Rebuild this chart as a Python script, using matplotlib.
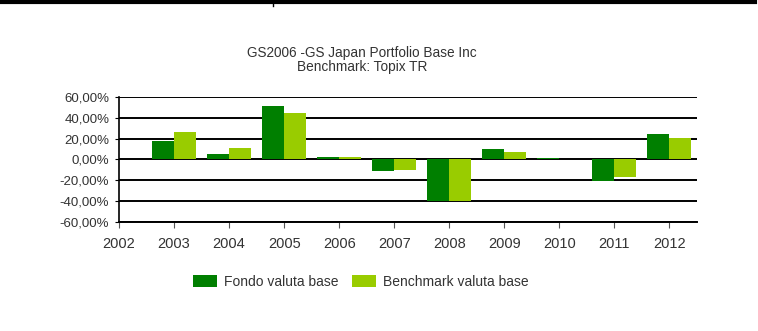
import matplotlib
matplotlib.use("Agg")
from matplotlib import pyplot as plt
from matplotlib.lines import Line2D

# dati (rendimenti annui in %)
years = [2003, 2004, 2005, 2006, 2007, 2008, 2009, 2010, 2011, 2012]
fondo = [17.5, 5.5, 51.0, 2.7, -11.0, -40.0, 9.8, 1.0, -20.5, 24.0]
benchmark = [26.0, 11.5, 45.0, 2.5, -10.5, -40.0, 7.5, 0.8, -17.0, 21.0]
tick_years = [2002, 2003, 2004, 2005, 2006, 2007, 2008, 2009, 2010, 2011, 2012]
y_ticks = [-60, -40, -20, 0, 20, 40, 60]

DARK = "#007F00"
LIGHT = "#99CC00"
TEXT = "#333333"

plt.rcParams["font.family"] = ["Liberation Sans", "DejaVu Sans"]


def main() -> None:
    fig = plt.figure(figsize=(7.58, 3.31), dpi=100)
    ax = fig.add_axes((119 / 758, 1 - 222 / 331, (697 - 119) / 758, (222 - 97) / 331))

    ax.bar([y - 0.2 for y in years], fondo, width=0.4, color=DARK,
           label="Fondo valuta base", zorder=3)
    ax.bar([y + 0.2 for y in years], benchmark, width=0.4, color=LIGHT,
           label="Benchmark valuta base", zorder=3)

    ax.set_xlim(2002, 2012.5)
    ax.set_ylim(-60, 60)
    ax.set_xticks(tick_years)
    ax.set_xticklabels([str(y) for y in tick_years], fontsize=10.5, color=TEXT)
    ax.set_yticks(y_ticks)
    ax.set_yticklabels([f"{v},00%" for v in y_ticks], fontsize=9.5, color=TEXT)

    for v in y_ticks:
        ax.axhline(v, color="black", linewidth=1.4, zorder=2)

    for side in ("top", "right"):
        ax.spines[side].set_visible(False)
    ax.spines["left"].set_linewidth(1.2)
    ax.spines["bottom"].set_linewidth(1.4)
    ax.tick_params(axis="x", length=4, color="#555555", pad=7)
    ax.tick_params(axis="y", length=3, color="black", pad=4)

    fig.text(362 / 758, 1 - 53 / 331, "GS2006 -GS Japan Portfolio Base Inc",
             ha="center", va="center", fontsize=9.8, color=TEXT)
    fig.text(362 / 758, 1 - 67 / 331, "Benchmark: Topix TR",
             ha="center", va="center", fontsize=9.8, color=TEXT)

    fig.legend(loc="center", bbox_to_anchor=(361 / 758, 1 - 282 / 331), ncol=2,
               frameon=False, fontsize=10, handlelength=1.7, handleheight=1.0,
               handletextpad=0.5, columnspacing=1.0, labelcolor=TEXT)

    # bordo nero in alto (ritaglio della pagina)
    fig.add_artist(Line2D([0, 755 / 758], [1 - 2 / 331, 1 - 2 / 331],
                          color="black", linewidth=3, transform=fig.transFigure))
    fig.add_artist(Line2D([273 / 758, 273 / 758], [1 - 2 / 331, 1 - 6 / 331],
                          color="black", linewidth=1, transform=fig.transFigure))

    fig.savefig("out.png", dpi=100)


if __name__ == "__main__":
    main()
